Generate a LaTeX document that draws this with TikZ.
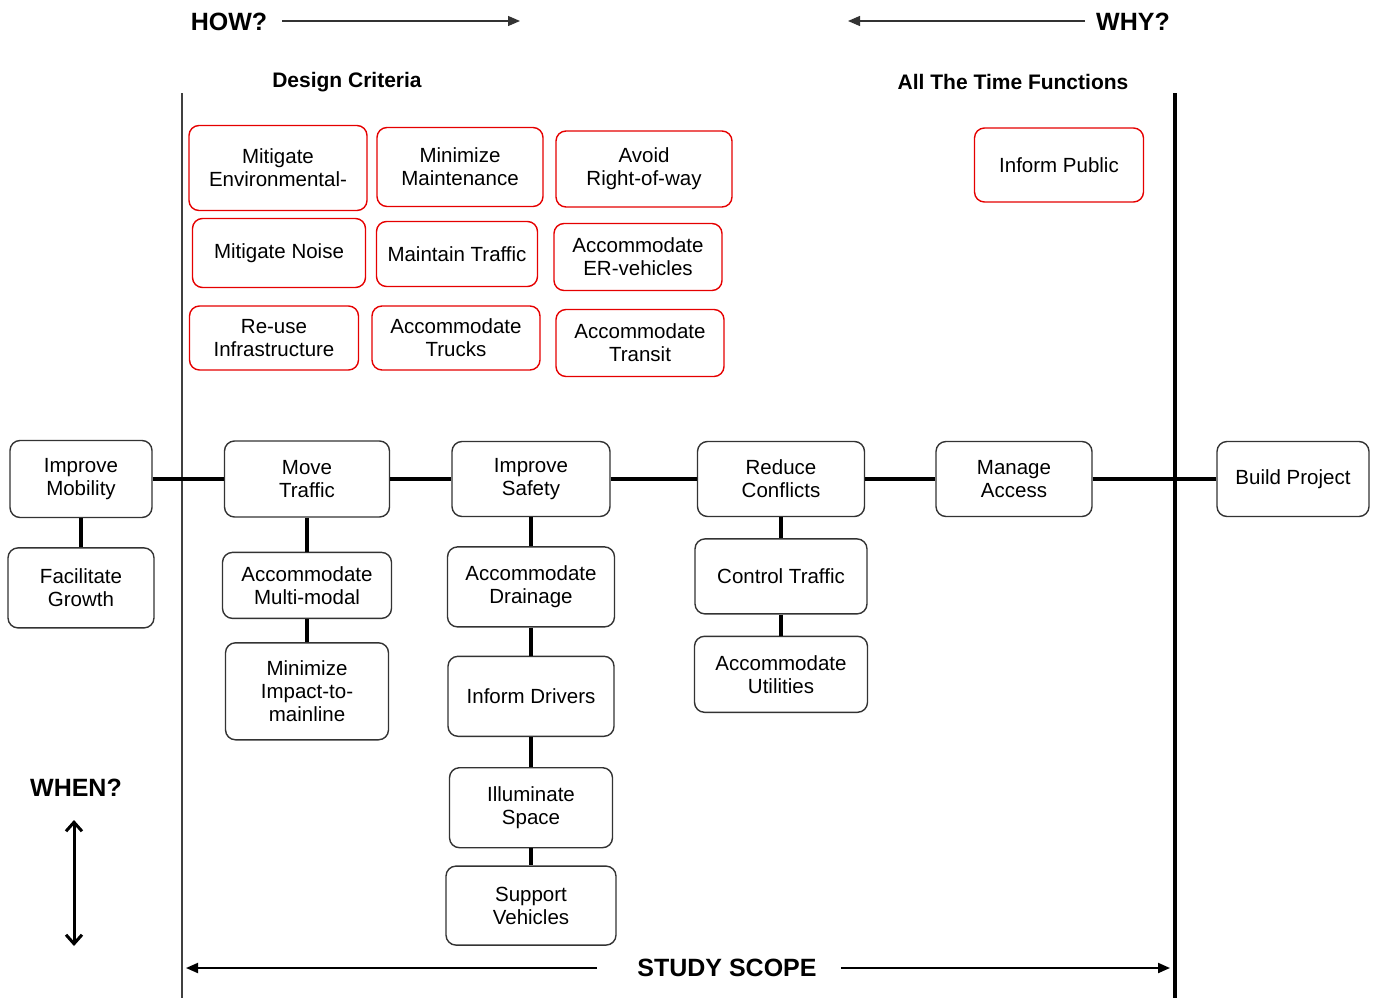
\documentclass[tikz,border=0pt]{standalone}
\usepackage{fontspec}
\setmainfont{Liberation Sans}
\usepackage{tikz}
\usetikzlibrary{arrows.meta, positioning}

\begin{document}
\begin{tikzpicture}[x=1pt, y=-1pt, node distance=30pt, >=Triangle]
    \tikzstyle{func} = [rectangle, draw=black!80, line width=1.4pt, rounded corners=10pt, align=center, inner sep=2pt, font=\fontsize{20.5}{23}\selectfont]
    \tikzstyle{crit} = [func, draw=red!90!black, line width=1.4pt]
    \tikzstyle{link} = [line width=4pt]
    \tikzstyle{head} = [inner sep=0pt, font=\fontsize{25}{28}\selectfont\bfseries]
    \tikzstyle{subhead} = [inner sep=0pt, font=\fontsize{21}{24}\selectfont\bfseries]
    \tikzstyle{guide} = [->, line width=1.3pt, black!80, >={Triangle[length=12pt, width=10pt]}]

    \useasboundingbox (0,0) rectangle (1378,998);

    % scope borders
    \coordinate (leftTop) at (182,93);
    \coordinate (leftBot) at (182,998);
    \coordinate (rightTop) at (1175,93);
    \coordinate (rightBot) at (1175,998);
    \draw [line width=1.6pt, black!75] (leftTop) -- (leftBot);
    \draw [line width=4pt] (rightTop) -- (rightBot);

    % headings
    \node [head] (how) at (229,22) {HOW?};
    \node [head] (why) at (1133,22) {WHY?};
    \node [head] (when) at (76,788) {WHEN?};
    \node [head] (scope) at (727,968) {STUDY SCOPE};
    \node [subhead] (design) at (347,82) {Design Criteria};
    \node [subhead] (always) at (1013,82) {All The Time Functions};

    \coordinate (howA) at (282,21);
    \coordinate (howB) at (520,21);
    \coordinate (whyA) at (1085,21);
    \coordinate (whyB) at (848,21);
    \coordinate (whenA) at (74,820);
    \coordinate (whenB) at (74,946);
    \coordinate (scopeL) at (186,968);
    \coordinate (scopeR) at (1170,968);

    \draw [guide] (howA) -- (howB);
    \draw [guide] (whyA) -- (whyB);
    \draw [guide, line width=2pt, black] (scope.west) ++(-40,0) -- (scopeL);
    \draw [guide, line width=2pt, black] (scope.east) ++(24,0) -- (scopeR);
    \draw [<->, line width=3pt, >={Straight Barb[length=9pt, width=16pt]}] (whenA) -- (whenB);

    % design criteria
    \node [crit, minimum width=178pt, minimum height=85pt] (mitenv) at (278,168) {Mitigate\\Environmental-};
    \node [crit, minimum width=166pt, minimum height=79pt] (minmaint) at (460,167) {Minimize\\Maintenance};
    \node [crit, minimum width=176pt, minimum height=76pt] (avoidrow) at (644,169) {Avoid\\Right-of-way};
    \node [crit, minimum width=173pt, minimum height=69pt] (mitnoise) at (279,253) {Mitigate Noise};
    \node [crit, minimum width=161pt, minimum height=65pt] (maintraf) at (457,254) {Maintain Traffic};
    \node [crit, minimum width=168pt, minimum height=67pt] (accer) at (638,257) {Accommodate\\ER-vehicles};
    \node [crit, minimum width=169pt, minimum height=64pt] (reuse) at (274,338) {Re-use\\Infrastructure};
    \node [crit, minimum width=168pt, minimum height=64pt] (acctrucks) at (456,338) {Accommodate\\Trucks};
    \node [crit, minimum width=168pt, minimum height=67pt] (acctransit) at (640,343) {Accommodate\\Transit};
    \node [crit, minimum width=169pt, minimum height=74pt] (infpublic) at (1059,165) {Inform Public};

    % critical path
    \node [func, minimum width=142pt, minimum height=77pt] (impmob) at (81,479) {Improve\\Mobility};
    \node [func, minimum width=165pt, minimum height=76pt] (movetraf) at (307,479) {Move\\Traffic};
    \node [func, minimum width=158pt, minimum height=75pt] (impsafe) at (531,479) {Improve\\Safety};
    \node [func, minimum width=167pt, minimum height=75pt] (reduce) at (781,479) {Reduce\\Conflicts};
    \node [func, minimum width=156pt, minimum height=75pt] (manage) at (1014,479) {Manage\\Access};
    \node [func, minimum width=152pt, minimum height=75pt] (build) at (1293,479) {Build Project};

    % supporting functions
    \node [func, minimum width=146pt, minimum height=80pt, below=29pt of impmob] (facgrow) {Facilitate\\Growth};
    \node [func, minimum width=169pt, minimum height=66pt, below=34pt of movetraf] (accmulti) {Accommodate\\Multi-modal};
    \node [func, minimum width=163pt, minimum height=97pt, below=23pt of accmulti] (minimpact) {Minimize\\Impact-to-\\mainline};
    \node [func, minimum width=167pt, minimum height=80pt, below=29pt of impsafe] (accdrain) {Accommodate\\Drainage};
    \node [func, minimum width=166pt, minimum height=80pt, below=28pt of accdrain] (infdrv) {Inform Drivers};
    \node [func, minimum width=163pt, minimum height=80pt, below=30pt of infdrv] (illum) {Illuminate\\Space};
    \node [func, minimum width=170pt, minimum height=79pt, below=17pt of illum] (support) {Support\\Vehicles};
    \node [func, minimum width=172pt, minimum height=75pt, below=21pt of reduce] (control) {Control Traffic};
    \node [func, minimum width=173pt, minimum height=76pt, below=21pt of control] (accutil) {Accommodate\\Utilities};

    \draw [link] (impmob) -- (movetraf);
    \draw [link] (movetraf) -- (impsafe);
    \draw [link] (impsafe) -- (reduce);
    \draw [link] (reduce) -- (manage);
    \draw [link] (manage) -- (build);
    \draw [link] (impmob) -- (facgrow);
    \draw [link] (movetraf) -- (accmulti);
    \draw [link] (accmulti) -- (minimpact);
    \draw [link] (impsafe) -- (accdrain);
    \draw [link] (accdrain) -- (infdrv);
    \draw [link] (infdrv) -- (illum);
    \draw [link] (illum) -- (support);
    \draw [link] (reduce) -- (control);
    \draw [link] (control) -- (accutil);
\end{tikzpicture}
\end{document}
